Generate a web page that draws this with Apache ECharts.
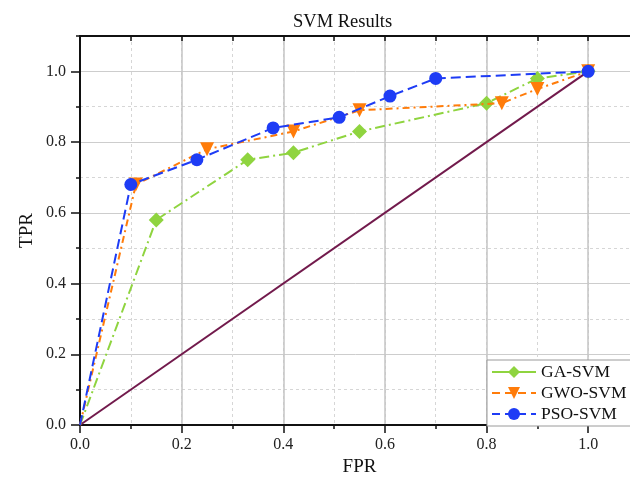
<!DOCTYPE html>
<html>
<head>
<meta charset="utf-8">
<script src="https://cdn.jsdelivr.net/npm/echarts@6/dist/echarts.min.js"></script>
<style>html,body{margin:0;padding:0;background:#fff;}#c{width:630px;height:484px;}</style>
</head>
<body>
<div id="c"></div>
<script>
const seriesNames = ['GA-SVM', 'GWO-SVM', 'PSO-SVM'];
const gaFPR  = [0, 0.15, 0.33, 0.42, 0.55, 0.80, 0.90, 1.0];
const gaTPR  = [0, 0.58, 0.75, 0.77, 0.83, 0.91, 0.98, 1.0];
const gwoFPR = [0, 0.11, 0.25, 0.42, 0.55, 0.83, 0.90, 1.0];
const gwoTPR = [0, 0.68, 0.78, 0.83, 0.89, 0.91, 0.95, 1.0];
const psoFPR = [0, 0.10, 0.23, 0.38, 0.51, 0.61, 0.70, 1.0];
const psoTPR = [0, 0.68, 0.75, 0.84, 0.87, 0.93, 0.98, 1.0];
const diagFPR = [0, 1];
const diagTPR = [0, 1];
const majorTicks = [0, 0.2, 0.4, 0.6, 0.8, 1.0];

const FONT = 'Liberation Serif';
function pts(xs, ys) {
  return xs.map((x, i) => i === 0 ? { value: [x, ys[i]], symbol: 'none' } : [x, ys[i]]);
}
const fmt = v => Number(v).toFixed(1);

const chart = echarts.init(document.getElementById('c'), null, { renderer: 'canvas' });
chart.setOption({
  animation: false,
  backgroundColor: '#ffffff',
  title: {
    text: 'SVM Results', left: 288, top: 8,
    textStyle: { fontFamily: FONT, fontSize: 18.5, fontWeight: 'normal', color: '#111' }
  },
  grid: { left: 80, top: 36, width: 559, height: 389, containLabel: false, outerBoundsMode: 'none' },
  legend: {
    orient: 'vertical', left: 487, top: 360,
    padding: [3, 6, 3, 4], itemGap: 3, itemWidth: 44, itemHeight: 15,
    borderColor: '#9a9a9a', borderWidth: 1, backgroundColor: '#fff',
    textStyle: { fontFamily: FONT, fontSize: 17.5, color: '#111' },
    data: [
      { name: seriesNames[0], lineStyle: { type: 'solid' } },
      { name: seriesNames[1], lineStyle: { type: [8, 5] } },
      { name: seriesNames[2], lineStyle: { type: [8, 5] } }
    ]
  },
  xAxis: [
    {
      type: 'value', position: 'bottom', min: 0, max: 1.1, interval: 0.1,
      axisLine: { show: true, onZero: false, lineStyle: { color: '#111', width: 2 } },
      axisTick: { show: true, inside: false, length: 4, lineStyle: { color: '#111', width: 1.5 } },
      axisLabel: { show: false },
      splitLine: { show: true, lineStyle: { color: '#d6d6d6', width: 1, type: [3, 3] } },
      name: 'FPR', nameLocation: 'middle', nameGap: 33,
      nameTextStyle: { fontFamily: FONT, fontSize: 19, color: '#111' }
    },
    {
      type: 'value', position: 'bottom', min: 0, max: 1.1, interval: 0.2,
      axisLine: { show: false },
      axisTick: { show: true, inside: false, length: 8, customValues: majorTicks, lineStyle: { color: '#111', width: 1.5 } },
      axisLabel: { show: true, margin: 12, customValues: majorTicks, formatter: fmt,
        fontFamily: FONT, fontSize: 16, color: '#222' },
      splitLine: { show: true, lineStyle: { color: '#c4c4c4', width: 1.5 } }
    },
    {
      type: 'value', position: 'top', min: 0, max: 1.1, interval: 0.1,
      axisLine: { show: true, onZero: false, lineStyle: { color: '#111', width: 2 } },
      axisTick: { show: true, inside: true, length: 5, lineStyle: { color: '#111', width: 1.5 } },
      axisLabel: { show: false }, splitLine: { show: false }
    }
  ],
  yAxis: [
    {
      type: 'value', position: 'left', min: 0, max: 1.1, interval: 0.1,
      axisLine: { show: true, onZero: false, lineStyle: { color: '#111', width: 2 } },
      axisTick: { show: true, inside: false, length: 4, lineStyle: { color: '#111', width: 1.5 } },
      axisLabel: { show: false },
      splitLine: { show: true, lineStyle: { color: '#d6d6d6', width: 1, type: [3, 3] } },
      name: 'TPR', nameLocation: 'middle', nameGap: 43, nameRotate: 90,
      nameTextStyle: { fontFamily: FONT, fontSize: 19, color: '#111' }
    },
    {
      type: 'value', position: 'left', min: 0, max: 1.1, interval: 0.2,
      axisLine: { show: false },
      axisTick: { show: true, inside: false, length: 9, customValues: majorTicks, lineStyle: { color: '#111', width: 1.5 } },
      axisLabel: { show: true, margin: 14, customValues: majorTicks, formatter: fmt,
        fontFamily: FONT, fontSize: 16, color: '#222' },
      splitLine: { show: true, lineStyle: { color: '#cdcdcd', width: 1 } }
    }
  ],
  series: [
    {
      name: 'diag', type: 'line', data: pts(diagFPR, diagTPR), showSymbol: false, symbol: 'none',
      lineStyle: { color: '#721a4c', width: 2 }, z: 2
    },
    {
      name: seriesNames[0], type: 'line', data: pts(gaFPR, gaTPR),
      symbol: 'diamond', symbolSize: 15,
      itemStyle: { color: '#8fd43f' },
      lineStyle: { color: '#8fd43f', width: 2, type: [10, 4, 2, 4] }, z: 3
    },
    {
      name: seriesNames[1], type: 'line', data: pts(gwoFPR, gwoTPR),
      symbol: 'triangle', symbolRotate: 180, symbolSize: 14,
      itemStyle: { color: '#ff7c0a' },
      lineStyle: { color: '#ff7c0a', width: 2, type: [7, 4, 2, 4] }, z: 4
    },
    {
      name: seriesNames[2], type: 'line', data: pts(psoFPR, psoTPR),
      symbol: 'circle', symbolSize: 13,
      itemStyle: { color: '#1e3cf5' },
      lineStyle: { color: '#1e3cf5', width: 2, type: [10, 5] }, z: 5
    }
  ]
});
</script>
</body>
</html>
